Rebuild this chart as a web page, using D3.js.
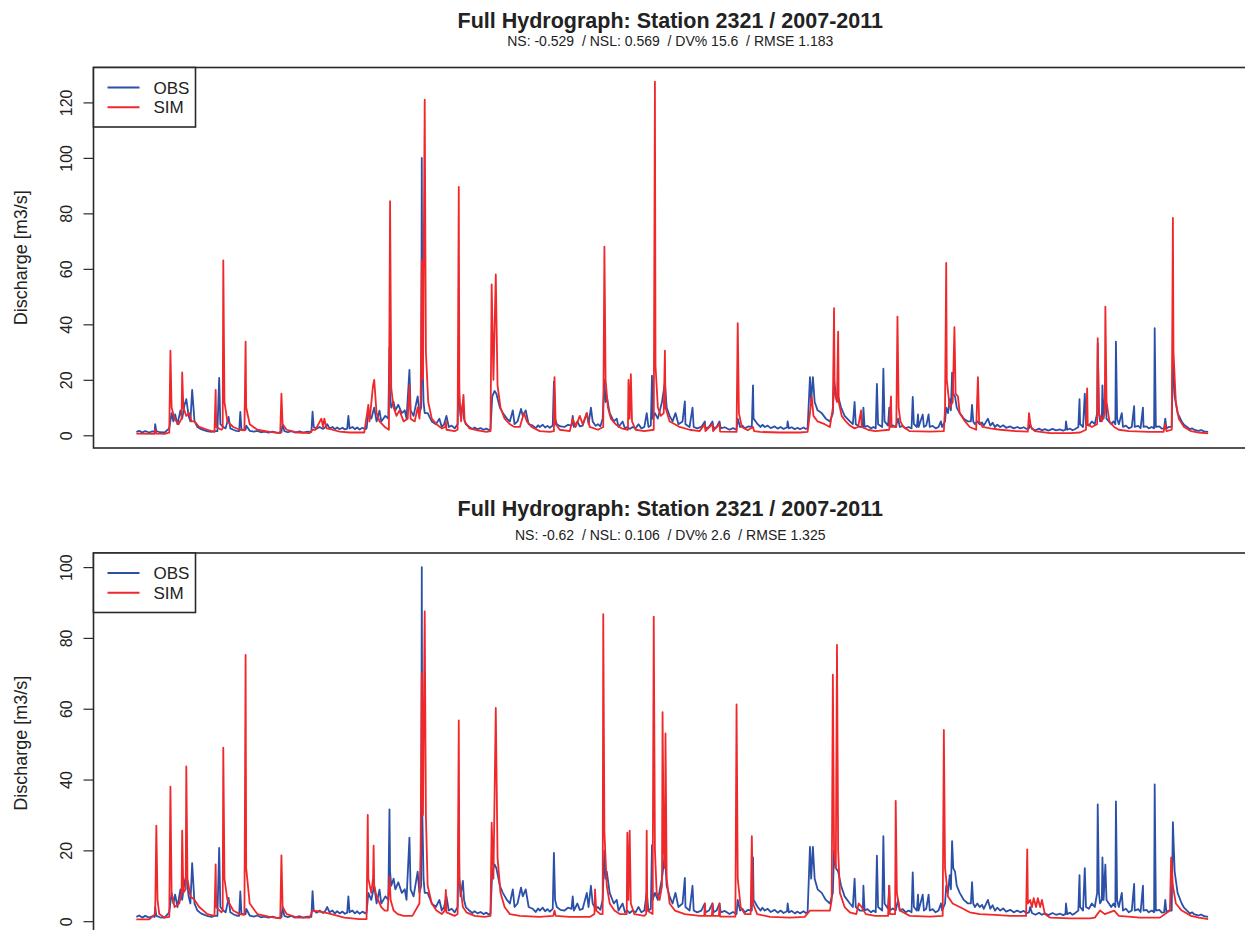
<!DOCTYPE html>
<html>
<head>
<meta charset="utf-8">
<script src="https://cdn.jsdelivr.net/npm/d3@7"></script>
<style>
  body { margin: 0; background: #fff; }
  svg { display: block; }
  text { font-family: "Liberation Sans", Arial, Helvetica, sans-serif; fill: #222; }
</style>
</head>
<body>
<svg id="chart" width="1245" height="930"></svg>
<script>
// ---- data -------------------------------------------------------------
const seriesNames = ["OBS", "SIM"];
const panelTitle = "Full Hydrograph: Station 2321 / 2007-2011";
const panelStats = [
  "NS: -0.529  / NSL: 0.569  / DV% 15.6  / RMSE 1.183",
  "NS: -0.62  / NSL: 0.106  / DV% 2.6  / RMSE 1.325"
];
const yTicksTop = [0, 20, 40, 60, 80, 100, 120];
const yTicksBottom = [0, 20, 40, 60, 80, 100];
const yLabel = "Discharge [m3/s]";
const startYear = 2007;

// observed discharge, [day since 1 Jan 2007, m3/s]
const obsFlow = [[0,1.2],[5,1.6],[10,1.0],[15,1.5],[22,1.0],[27,1.4],[31,1.2],[32,4.0],[34,1.5],[40,1.1],[48,1.0],[56,2.5],[60,8],[63,5],[66,7.5],[70,4],[75,9],[78,6],[82,11],[85,13],[89,7],[92,5],[95,16.4],[99,5],[104,3],[110,2.2],[116,1.8],[122,1.4],[128,1.2],[133,1.5],[138,1.5],[141,20.7],[143,4],[148,3],[152,2.5],[157,6.6],[160,2.5],[166,1.9],[170,1.6],[175,1.5],[177,8.4],[179,2],[186,2],[187,3.5],[193,1.6],[200,1.3],[206,1.6],[212,1.1],[218,1.3],[225,1.0],[232,1.3],[240,0.9],[247,1.1],[249,4],[252,1.5],[258,1.1],[264,1.5],[270,1.0],[278,1.4],[284,1.0],[291,1.3],[298,1.2],[300,8.5],[302,3],[307,2.4],[312,3],[318,2.3],[322,3],[325,4],[329,2.5],[334,3],[338,2.2],[342,2.8],[346,2.2],[351,2.7],[355,2.1],[359,2.4],[361,7],[363,2.5],[368,3],[372,2.2],[376,2.8],[380,2.1],[385,2.7],[390,2.2],[392,2.5],[395,8],[400,6],[405,10],[409,5],[414,8.9],[417,5],[424,7],[429,6],[431,31.6],[432,14],[434,10],[438,12],[441,9],[446,11],[452,8],[457,9],[460,6],[465,23.6],[467,9],[472,7],[479,14],[482,8],[485,10],[486,100],[487,30],[489,12],[491,8],[496,8],[503,5],[510,4],[516,6],[520,3],[524,4],[528,7],[532,3],[537,3.5],[542,2.5],[547,4],[549,28],[550,12],[552,7],[556,11.4],[558,6],[561,4],[567,3],[572,2.3],[576,2.8],[581,2.2],[586,2.6],[591,2],[596,2.4],[600,1.9],[603,2.2],[606,14],[610,16],[613,15],[619,10],[624,8],[631,6],[636,5],[641,9],[644,4],[649,5],[655,9.5],[658,7],[663,9],[668,4],[675,3.5],[680,2.6],[684,3.6],[687,3],[692,3.8],[696,2.8],[700,3.4],[704,2.7],[709,3.5],[711,19.3],[713,6],[716,4],[722,3.2],[729,3],[735,3.8],[741,3.5],[743,7],[745,3],[751,5],[755,3.2],[760,3.5],[767,8],[770,4],[774,10],[777,5],[782,3.4],[786,4],[790,3.2],[794,6],[797,20],[799,12],[801,14],[806,8],[813,5],[818,6],[821,3],[828,5],[832,2.5],[836,3],[840,2.3],[845,3],[850,2.5],[855,4],[860,2.5],[865,3],[869,8],[872,3],[876,3.5],[878,21.5],[879,6],[883,8],[888,6],[895,12],[900,19],[903,10],[908,7],[913,5],[918,8],[923,4],[930,5],[934,12.2],[935,4],[942,3],[947,10],[949,3],[955,2.5],[962,3],[968,5],[969,2.5],[975,3],[981,5],[983,2.5],[988,3],[993,5],[995,2.5],[1002,2.9],[1010,2],[1016,2.6],[1022,2],[1024,6],[1028,3],[1032,3.5],[1036,2.5],[1042,3.2],[1048,3],[1050,18],[1051,6],[1058,4],[1063,3],[1066,3.8],[1070,3],[1075,3.5],[1080,2.6],[1087,3.2],[1092,2.4],[1097,3],[1102,2.3],[1108,2.8],[1109,5],[1111,2.5],[1116,2.9],[1121,2.2],[1126,2.7],[1130,2.2],[1136,2.8],[1140,2.3],[1143,2.5],[1147,21],[1149,12],[1152,21],[1155,12],[1160,9],[1167,8],[1174,6],[1181,5],[1186,8],[1188,20],[1191,15],[1195,14],[1200,10],[1206,7],[1215,5],[1220,4],[1223,12],[1225,4],[1232,3],[1237,3],[1238,10],[1240,3],[1245,3.4],[1251,2.5],[1255,3],[1259,2.5],[1261,18.5],[1263,4],[1270,3],[1272,24],[1274,5],[1280,3.5],[1282,10],[1283,3],[1288,3.6],[1293,3],[1297,6],[1300,3],[1305,3.4],[1310,2.5],[1315,3],[1320,2.5],[1322,13.8],[1324,4],[1329,3],[1331,7.5],[1332,3],[1339,7.5],[1341,3],[1345,3.5],[1349,7.5],[1351,3],[1356,3.4],[1361,2.5],[1366,3],[1370,5],[1372,3],[1377,5],[1379,10],[1382,8],[1385,13],[1387,9],[1389,22.6],[1391,15],[1394,14],[1397,10],[1402,8],[1409,6],[1416,5],[1421,5],[1423,11],[1425,5],[1428,4],[1432,5],[1436,4],[1440,4.6],[1443,3.5],[1450,6],[1454,3.5],[1458,4.5],[1462,3],[1466,3.8],[1471,3],[1476,3.6],[1481,2.7],[1488,3.2],[1494,2.5],[1500,3],[1505,2.5],[1511,2.9],[1516,2.3],[1520,2.5],[1522,4],[1525,2.3],[1531,1.8],[1537,2.4],[1542,1.8],[1547,2.2],[1553,1.7],[1560,2.3],[1566,1.8],[1573,2.1],[1578,1.7],[1582,2],[1583,5],[1585,2],[1590,2.4],[1594,1.8],[1598,2.2],[1604,3],[1606,13],[1607,4],[1612,3],[1615,15],[1617,4],[1622,3.5],[1627,5],[1632,4],[1636,8],[1637,33],[1639,8],[1641,5],[1644,6],[1645,18],[1647,6],[1650,16],[1652,6],[1656,5],[1660,4],[1664,5],[1667,4],[1668,33.8],[1670,6],[1673,4],[1678,8],[1680,3],[1685,3.5],[1690,2.5],[1695,3],[1699,10.5],[1700,3],[1706,3.4],[1710,2.6],[1714,10],[1715,3],[1720,3.2],[1724,2.5],[1729,3],[1733,2.5],[1734,38.6],[1736,3],[1742,3.2],[1746,2.4],[1750,2.5],[1752,6],[1754,2.5],[1758,3],[1763,3],[1765,28],[1768,14],[1773,8],[1780,5],[1784,3.8],[1789,3],[1794,2.2],[1798,2.5],[1801,2],[1805,1.8],[1809,1.6],[1813,1.9],[1818,1.4],[1825,1.2]];

// simulated discharge, first model run
const simFlowA = [[0,0.6],[31,0.5],[32,2],[34,0.6],[48,0.5],[56,1],[58,30.5],[60,10],[65,6],[72,4],[77,6],[78,22.7],[80,10],[85,7],[90,8],[94,5],[99,5],[107,3],[121,2],[133,1.2],[135,16.4],[136,3],[145,2],[147,2.5],[148,63],[150,12],[155,5],[165,3],[176,2],[184,1.8],[186,33.8],[187,10],[193,4],[206,2],[227,1.2],[245,0.8],[247,15],[249,4],[256,2],[274,1],[295,0.8],[300,2],[305,2],[315,6],[318,3],[320,6],[324,2.5],[334,2],[346,1.3],[363,1],[388,1],[395,11],[397,5],[403,18],[405,20],[409,8],[414,5],[423,3],[430,2],[432,84.4],[434,17],[438,10],[443,7],[448,9],[455,5],[462,6],[465,18],[467,6],[474,5],[479,10],[482,6],[484,12],[486,63],[488,20],[491,121],[493,30],[497,12],[503,6],[511,4],[520,2.5],[526,3],[527,5],[528,2],[542,1.5],[547,2],[549,89.5],[550,15],[553,5],[557,14.6],[559,5],[567,2.5],[581,1.8],[596,1.2],[603,1.5],[605,54.4],[608,20],[612,58],[615,18],[620,10],[627,6],[636,4],[644,3],[653,3],[660,8],[665,5],[673,3],[687,1.5],[704,1.2],[711,1.5],[712,21],[714,4],[721,2],[738,1.5],[743,6],[748,3],[755,7],[760,4],[767,8],[772,3],[786,2],[795,3],[797,68],[799,20],[803,10],[808,6],[816,4],[826,2.5],[837,2],[838,20],[840,6],[842,22],[844,5],[850,2],[865,1.5],[881,2],[883,127.5],[884,25],[888,10],[893,7],[898,8],[900,30.5],[901,10],[908,5],[917,4],[925,3],[942,2],[959,1.5],[968,4],[969,1.5],[981,4],[982,1.5],[993,4],[994,1.3],[1022,1.2],[1024,40.4],[1026,8],[1031,3],[1041,1.8],[1050,3],[1052,1.5],[1062,1.2],[1096,1],[1130,1],[1143,1.2],[1147,8],[1150,14],[1153,7],[1160,5],[1172,4],[1181,3],[1186,10],[1188,45.8],[1189,15],[1193,12],[1195,37.4],[1196,12],[1201,7],[1208,5],[1215,3.5],[1223,2.5],[1229,3],[1234,9],[1235,3],[1246,2],[1258,1.5],[1282,2],[1285,14],[1286,3],[1294,3],[1296,42.8],[1298,10],[1301,5],[1306,3],[1317,1.5],[1351,1.3],[1375,1.5],[1377,10],[1379,62.1],[1380,20],[1385,10],[1390,12],[1393,39],[1395,15],[1399,14],[1402,8],[1411,5],[1419,3],[1430,2],[1433,21],[1435,5],[1441,3],[1454,2.5],[1471,2],[1497,1.5],[1518,1.3],[1520,8],[1523,3],[1530,1.5],[1556,0.8],[1590,0.8],[1607,1],[1617,2],[1619,16.9],[1620,4],[1627,3],[1636,4],[1637,35],[1639,8],[1644,5],[1649,8],[1650,46.4],[1652,12],[1657,5],[1665,3],[1673,2],[1690,1.5],[1724,1.2],[1749,1.2],[1752,4],[1754,1.5],[1763,2],[1765,78.4],[1766,30],[1770,12],[1775,6],[1784,3],[1796,1.5],[1809,1],[1825,0.7]];

// simulated discharge, second model run
const simFlowB = [[0,0.5],[22,0.5],[32,2],[34,27],[36,6],[39,2],[48,1],[56,1.2],[58,38],[60,8],[65,4],[73,5],[77,8],[78,25.6],[80,8],[84,9],[85,43.7],[87,12],[92,7],[99,6],[107,4],[121,2],[133,1.5],[135,16],[136,4],[145,2.5],[147,3],[148,49],[150,12],[155,6],[165,3],[176,2],[184,1.8],[186,75.2],[187,15],[193,5],[206,2],[227,1.2],[245,0.8],[247,18.6],[249,4],[256,2],[274,1],[295,1],[300,3],[308,2.8],[320,2.5],[337,1.8],[354,1],[380,0.6],[392,0.6],[394,30],[395,12],[400,8],[403,12],[404,21.3],[405,10],[409,7],[417,4],[423,3],[428,3],[431,12.5],[433,6],[438,3],[445,2],[455,1.5],[470,1.5],[482,5],[484,20],[486,70],[488,30],[491,87.5],[493,30],[496,10],[503,5],[511,3],[520,2],[525,3],[527,8.8],[528,2.5],[542,1.5],[547,2],[549,56.7],[550,12],[556,4],[562,2.5],[576,1.5],[593,1.2],[603,1.5],[605,27.8],[608,12],[612,60.2],[615,18],[620,8],[627,4],[636,2],[653,1.5],[687,1.2],[710,1.5],[712,3],[714,1.5],[738,1.2],[772,1.2],[780,2],[781,9],[783,3],[790,2],[794,2],[795,86.7],[797,25],[801,10],[806,5],[814,3],[823,2],[835,2],[836,25],[838,6],[840,25.6],[842,5],[848,2],[865,1.5],[868,2],[869,25.6],[870,3],[879,2],[881,86],[883,20],[886,8],[891,6],[895,10],[896,59],[898,20],[900,15],[901,53],[903,12],[908,5],[917,3],[934,2],[959,1.5],[967,1.5],[968,5],[969,1.5],[980,1.5],[981,5],[982,1.5],[992,1.5],[993,5],[994,1.3],[1020,1.3],[1022,61.2],[1024,12],[1029,4],[1036,2],[1046,2],[1048,24],[1050,5],[1057,2],[1079,1.2],[1113,1],[1138,1.2],[1147,3],[1155,3],[1164,3],[1181,3],[1184,6],[1186,69.6],[1188,20],[1191,15],[1193,78],[1195,20],[1198,8],[1206,4],[1215,2.5],[1226,2],[1230,5],[1235,4],[1242,2],[1258,1.5],[1280,1.5],[1282,10],[1283,2],[1292,2],[1293,34],[1295,8],[1300,3],[1317,1.5],[1351,1.3],[1373,1.5],[1375,54],[1377,15],[1382,7],[1390,5],[1402,4],[1419,2.5],[1436,2],[1462,1.8],[1488,1.5],[1515,1.5],[1517,20.3],[1518,5],[1522,6],[1525,4],[1528,6.5],[1532,4],[1535,6.5],[1539,4],[1542,6],[1547,2],[1556,1],[1590,0.8],[1624,0.8],[1632,1],[1641,3],[1649,2],[1665,3],[1673,1.5],[1709,1],[1743,1],[1760,3],[1762,18],[1765,10],[1770,5],[1780,3],[1796,1.5],[1809,1],[1825,0.6]];

// ---- drawing ----------------------------------------------------------
const colors = { OBS: "#2b50a8", SIM: "#f0282a" };
const svg = d3.select("#chart");
const toDate = d => new Date(startYear, 0, 1 + d);

const frame = { left: 93.5, right: 1251 };
const panels = [
  { top: 67.5, height: 380.5, sim: simFlowA, stats: panelStats[0], ticks: yTicksTop, titleY: 28, statsY: 46 },
  { top: 553, height: 380.5, sim: simFlowB, stats: panelStats[1], ticks: yTicksBottom, titleY: 516, statsY: 540 }
];

// R-style axis extent: data range padded by 4% on each side
function padded(ext) {
  const pad = (ext[1] - ext[0]) * 0.04;
  return [ext[0] - pad, ext[1] + pad];
}

const dayExtent = d3.extent(obsFlow, d => d[0]);
const x = d3.scaleTime()
  .domain(padded(dayExtent).map(toDate))
  .range([frame.left, frame.right]);

panels.forEach(p => {
  const g = svg.append("g");
  const bottom = p.top + p.height;
  const all = obsFlow.concat(p.sim);
  const y = d3.scaleLinear()
    .domain(padded(d3.extent(all, d => d[1])))
    .range([bottom, p.top]);

  const midX = (frame.left + frame.right) / 2 - 2;

  g.append("text")
    .attr("x", midX).attr("y", p.titleY)
    .attr("text-anchor", "middle")
    .style("font-weight", "bold").style("font-size", "21.5px")
    .text(panelTitle);

  g.append("text")
    .attr("x", midX).attr("y", p.statsY)
    .attr("text-anchor", "middle")
    .style("font-size", "14px").style("white-space", "pre")
    .text(p.stats);

  const line = d3.line()
    .x(d => x(toDate(d[0])))
    .y(d => y(d[1]));

  const clipId = "clip" + Math.round(p.top);
  g.append("clipPath").attr("id", clipId)
    .append("rect").attr("x", frame.left).attr("y", p.top)
    .attr("width", frame.right - frame.left).attr("height", p.height);

  const plot = g.append("g").attr("clip-path", `url(#${clipId})`);
  [[obsFlow, colors.OBS], [p.sim, colors.SIM]].forEach(([data, col]) => {
    plot.append("path")
      .datum(data)
      .attr("fill", "none")
      .attr("stroke", col)
      .attr("stroke-width", 1.8)
      .attr("stroke-linejoin", "round")
      .attr("d", line);
  });

  // plot frame
  g.append("rect")
    .attr("x", frame.left).attr("y", p.top)
    .attr("width", frame.right - frame.left).attr("height", p.height)
    .attr("fill", "none").attr("stroke", "#2a2a2a").attr("stroke-width", 1.6);

  // y axis with labels parallel to the axis
  const axis = g.append("g")
    .attr("transform", `translate(${frame.left},0)`)
    .call(d3.axisLeft(y).tickValues(p.ticks).tickSize(10).tickFormat(d3.format("d")));
  axis.select(".domain").remove();
  axis.selectAll(".tick line").attr("stroke", "#2a2a2a").attr("stroke-width", 1.2);
  axis.selectAll(".tick text")
    .attr("x", 0).attr("y", -22).attr("dy", null)
    .attr("transform", "rotate(-90)")
    .attr("text-anchor", "middle")
    .attr("fill", "#222")
    .style("font-size", "16px")
    .style("font-family", "\"Liberation Sans\", Arial, sans-serif");

  g.append("text")
    .attr("transform", `translate(27,${p.top + p.height / 2}) rotate(-90)`)
    .attr("text-anchor", "middle")
    .style("font-size", "18px")
    .text(yLabel);

  // legend
  const lg = g.append("g").attr("transform", `translate(${frame.left},${p.top})`);
  lg.append("rect")
    .attr("width", 102).attr("height", 59.5)
    .attr("fill", "#fff").attr("stroke", "#2a2a2a").attr("stroke-width", 1.6);
  seriesNames.forEach((name, i) => {
    const ly = 20 + i * 19.7;
    lg.append("line")
      .attr("x1", 14).attr("x2", 46).attr("y1", ly).attr("y2", ly)
      .attr("stroke", colors[name]).attr("stroke-width", 2);
    lg.append("text")
      .attr("x", 60).attr("y", ly + 6)
      .style("font-size", "17px")
      .text(name);
  });
});
</script>
</body>
</html>
